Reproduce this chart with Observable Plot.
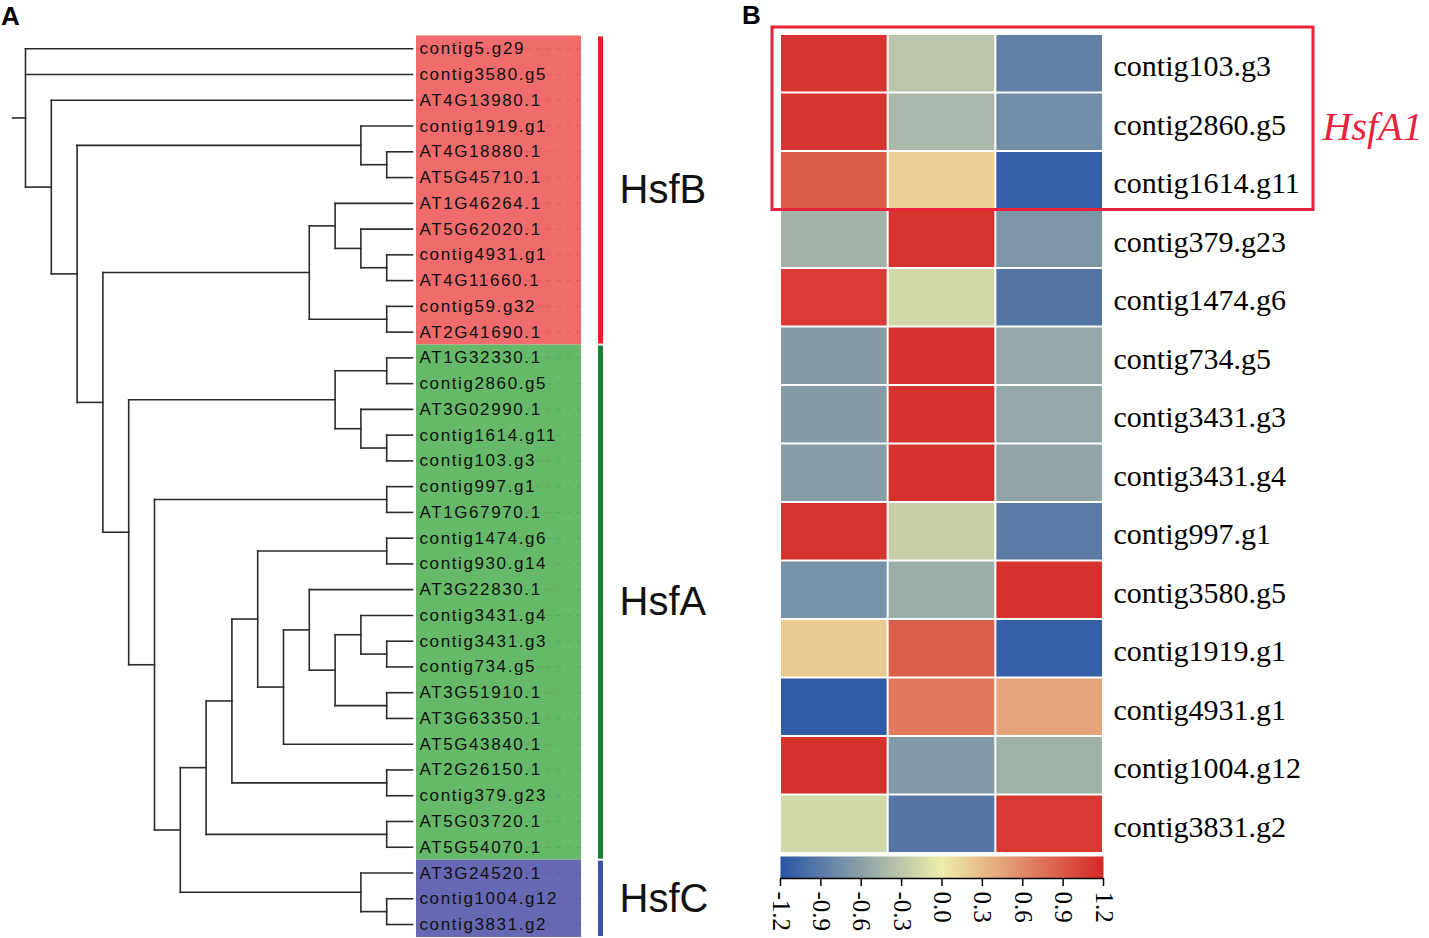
<!DOCTYPE html>
<html><head><meta charset="utf-8">
<script src="https://cdn.jsdelivr.net/npm/d3@7"></script>
<script src="https://cdn.jsdelivr.net/npm/@observablehq/plot@0.6"></script>
<style>
body{margin:0;background:#fff;}
#fig{position:relative;width:1429px;height:938px;overflow:hidden;background:#fff;}
#fig svg{overflow:visible;background:transparent;}
.panel{position:absolute;font:bold 26px "Liberation Sans", Arial, sans-serif;line-height:1;color:#000;}
</style></head><body><div id="fig"></div>
<script>
// ---------- DATA ----------
// Tree topology (nested clades), leaf order top to bottom
const cladeN20 = [["contig3431.g4", ["contig3431.g3", "contig734.g5"]], ["AT3G51910.1", "AT3G63350.1"]];
const cladeN18 = [["AT3G22830.1", cladeN20], "AT5G43840.1"];
const cladeN15 = [["contig1474.g6", "contig930.g14"], cladeN18];
const cladeN13 = [cladeN15, ["AT2G26150.1", "contig379.g23"]];
const cladeN11 = [cladeN13, ["AT5G03720.1", "AT5G54070.1"]];
const cladeN10 = [cladeN11, ["AT3G24520.1", ["contig1004.g12", "contig3831.g2"]]];
const cladeN8 = [["contig997.g1", "AT1G67970.1"], cladeN10];
const cladeN7 = [["AT1G32330.1", "contig2860.g5"], ["AT3G02990.1", ["contig1614.g11", "contig103.g3"]]];
const cladeN5 = [["AT1G46264.1", ["AT5G62020.1", ["contig4931.g1", "AT4G11660.1"]]], ["contig59.g32", "AT2G41690.1"]];
const cladeN3 = ["contig1919.g1", ["AT4G18880.1", "AT5G45710.1"]];
const treeData = ["contig5.g29", "contig3580.g5", ["AT4G13980.1", [cladeN3, [cladeN5, [cladeN7, cladeN8]]]]];

const groupNames = ["HsfB", "HsfA", "HsfC"];
const groupSizes = [12, 20, 3];
const bandColors = ["#f06b6b", "#66b969", "#6668b3"];
const barColors = ["#e81f2b", "#18803b", "#3f52a8"];

// Heatmap
const heatGenes = ["contig103.g3","contig2860.g5","contig1614.g11","contig379.g23","contig1474.g6","contig734.g5","contig3431.g3","contig3431.g4","contig997.g1","contig3580.g5","contig1919.g1","contig4931.g1","contig1004.g12","contig3831.g2"];
const samples = ["S1", "S2", "S3"];
const sample1 = [1.12, 1.13, 0.89, -0.46, 1.07, -0.64, -0.64, -0.63, 1.12, -0.72, 0.22, -1.15, 1.14, -0.17];
const sample2 = [-0.32, -0.42, 0.19, 1.12, -0.18, 1.14, 1.14, 1.14, -0.25, -0.50, 0.86, 0.70, -0.66, -0.93];
const sample3 = [-0.86, -0.76, -1.12, -0.70, -0.95, -0.56, -0.56, -0.57, -0.90, 1.14, -1.12, 0.44, -0.48, 1.09];
const colorTicks = [-1.2, -0.9, -0.6, -0.3, 0, 0.3, 0.6, 0.9, 1.2];
const highlight = [{label: "HsfA1", first: 0, last: 2}];

// ---------- LAYOUT ----------
const fig = document.getElementById("fig");
function place(node, left, top) {
  node.style.position = "absolute";
  node.style.left = left + "px";
  node.style.top = top + "px";
  fig.appendChild(node);
}
const sans = '"Liberation Sans", Arial, sans-serif';
const serif = '"Liberation Serif", "Times New Roman", serif';

// tree layout (leaf-aligned cladogram)
const leaves = [];
function build(node) {
  if (typeof node === "string") { const y = leaves.length; leaves.push({name: node, y}); return {name: node, y, h: 0}; }
  const kids = node.map(build);
  return {kids, h: 1 + d3.max(kids, k => k.h), y: (kids[0].y + kids[kids.length - 1].y) / 2};
}
const root = build(treeData);
const H = root.h;
const segs = [];
(function collect(n) {
  if (!n.kids) return;
  const lv = H - n.h;
  segs.push({x1: lv, x2: lv, y1: n.kids[0].y, y2: n.kids[n.kids.length - 1].y});
  for (const k of n.kids) { segs.push({x1: lv, x2: H - k.h, y1: k.y, y2: k.y}); collect(k); }
})(root);
segs.push({x1: -0.5, x2: 0, y1: root.y, y2: root.y});

let acc = 0;
const groups = groupNames.map((g, i) => { const o = {name: g, first: acc, last: acc + groupSizes[i] - 1, color: barColors[i], band: bandColors[i]}; acc += groupSizes[i]; return o; });
leaves.forEach(l => { l.group = groups.find(g => l.y >= g.first && l.y <= g.last).name; });
const N = leaves.length;

// Panel letters
const pa = document.createElement("div"); pa.className = "panel"; pa.textContent = "A"; place(pa, 1, 3);
const pb = document.createElement("div"); pb.className = "panel"; pb.textContent = "B"; place(pb, 742, 2);

// A1: dendrogram
place(Plot.plot({
  width: 420, height: 938, margin: 0,
  x: {domain: [0, H], range: [25, 412], axis: null},
  y: {domain: [0, N - 1], range: [48.3, 924], axis: null},
  marks: [
    Plot.link(segs, {x1: "x1", y1: "y1", x2: "x2", y2: "y2", stroke: "#2b2b2b", strokeWidth: 1.6, strokeLinecap: "square"})
  ]
}), 0, 0);

// A2: group colour bands behind the leaf labels
place(Plot.plot({
  width: 165, height: 938, margin: 0,
  y: {domain: [-0.5, N - 0.5], range: [35.42, 936.96], axis: null},
  marks: [
    Plot.rect(groups, {y1: d => d.first - 0.5, y2: d => d.last + 0.5, fill: "band"})
  ]
}), 416, 0);

// A2b: leaf labels with dashed leaders
const labelPlot = Plot.plot({
  width: 165, height: 938, margin: 0,
  y: {type: "band", domain: leaves.map(d => d.name), range: [35.42, 936.96], padding: 0, round: false, axis: null},
  style: {fontFamily: sans},
  marks: [
    Plot.ruleY(leaves, {y: "name", stroke: "#000", strokeOpacity: 0.09, strokeDasharray: "5 5"}),
    Plot.text(leaves, {y: "name", text: "name", frameAnchor: "left", textAnchor: "start", dx: 3, fontSize: 17, fill: "#111", fontFamily: sans})
  ]
});
labelPlot.style.letterSpacing = "1.6px";
place(labelPlot, 416, 0);

// A3: group bars
place(Plot.plot({
  width: 5, height: 938, margin: 0,
  y: {domain: [-0.5, N - 0.5], range: [35.42, 936.96], axis: null},
  marks: [
    Plot.rect(groups, {y1: d => d.first - 0.5, y2: d => d.last + 0.5, fill: "color", insetTop: 1, insetBottom: 1})
  ]
}), 598, 0);

// A4: group labels
place(Plot.plot({
  width: 140, height: 938, margin: 0,
  y: {domain: [-0.5, N - 0.5], range: [35.42, 936.96], axis: null},
  marks: [
    Plot.text(groups, {y: d => (d.first + d.last) / 2, text: "name", frameAnchor: "left", textAnchor: "start", fontSize: 40, fill: "#111", fontFamily: sans})
  ]
}), 619, 0);

// B1: heatmap
const colorOpts = {type: "linear", domain: [-1.2, 0, 1.2], range: ["#2a55a5", "#eeeeaa", "#d42826"], interpolate: "rgb"};
const heatRows = heatGenes.flatMap((g, i) => [sample1[i], sample2[i], sample3[i]].map((v, j) => ({gene: g, sample: samples[j], value: v})));
place(Plot.plot({
  width: 649, height: 938, marginTop: 34, marginBottom: 85, marginLeft: 0, marginRight: 326,
  x: {domain: samples, padding: 0, round: false, axis: null},
  y: {domain: heatGenes, padding: 0, round: false},
  color: colorOpts,
  style: {fontFamily: serif, fontSize: "30px", color: "#000"},
  marks: [
    Plot.cell(heatRows, {x: "sample", y: "gene", fill: "value", inset: 1}),
    Plot.axisY({anchor: "right", tickSize: 0, tickPadding: 10, fontSize: 30, label: null, dy: 3, fill: "#000"})
  ]
}), 780, 0);

// B2: HsfA1 highlight box
place(Plot.plot({
  width: 657, height: 938, marginLeft: 0, marginRight: 116, marginTop: 0, marginBottom: 0,
  y: {domain: [0, heatGenes.length], range: [34, 853], axis: null},
  marks: [
    Plot.rect(highlight, {y1: d => d.first, y2: d => d.last + 1, stroke: "#e8213d", strokeWidth: 3, fill: "none", insetTop: -7}),
    Plot.text(highlight, {y: d => (d.first + d.last + 1) / 2, text: "label", frameAnchor: "right", textAnchor: "start", dx: 9, dy: 5, fontSize: 40, fontStyle: "italic", fill: "#e8213d", fontFamily: serif})
  ]
}), 772, 0);

// B3: colour bar
place(Plot.plot({
  width: 323, height: 82, marginTop: 0, marginBottom: 60, marginLeft: 0, marginRight: 0,
  x: {domain: [-1.2, 1.2]},
  y: {domain: [0, 1], axis: null},
  color: colorOpts,
  style: {fontFamily: serif, fontSize: "25px", color: "#000"},
  marks: [
    Plot.raster({x1: -1.2, x2: 1.2, y1: 0, y2: 1, fill: (x, y) => x, width: 323, height: 1}),
    Plot.ruleY([0], {stroke: "#000", strokeWidth: 1.5}),
    Plot.axisX({ticks: colorTicks, tickFormat: d => d.toFixed(1), tickSize: 8, tickPadding: 5, tickRotate: 90, fontSize: 25, stroke: "#000", strokeWidth: 1.5, label: null, fill: "#000"})
  ]
}), 780, 856);
</script></body></html>
